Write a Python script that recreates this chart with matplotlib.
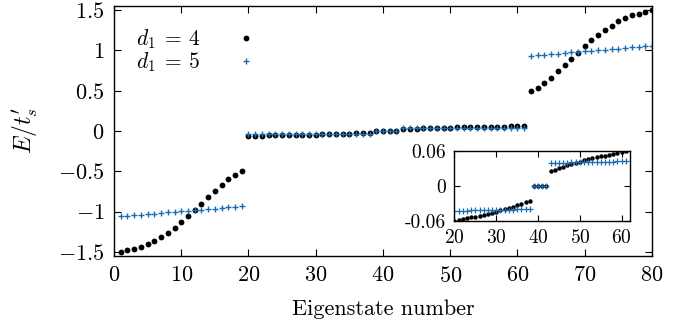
import numpy as np
import matplotlib
matplotlib.use('Agg')
import matplotlib.pyplot as plt

plt.rcParams['font.family'] = 'serif'
plt.rcParams['font.serif'] = ['cmr10', 'DejaVu Serif']
plt.rcParams['mathtext.fontset'] = 'cm'
plt.rcParams['axes.unicode_minus'] = False

# eigenstate index
n = np.arange(1, 81)

# d1 = 4 spectrum (black dots)
d4_low = [-1.502, -1.481, -1.461, -1.440, -1.407, -1.370, -1.317, -1.259, -1.202, -1.132,
          -1.058, -0.984, -0.905, -0.823, -0.745, -0.667, -0.601, -0.543, -0.502]
d4_mid_neg = [-0.0592, -0.0578, -0.0565, -0.0552, -0.0538, -0.0523, -0.0508, -0.0492, -0.0475, -0.0457,
              -0.0438, -0.0418, -0.0397, -0.0375, -0.0352, -0.0328, -0.0303, -0.0277, -0.0250]
d4_zero = [0.0, 0.0, 0.0, 0.0]
d4_mid_pos = [0.0250, 0.0277, 0.0303, 0.0328, 0.0352, 0.0375, 0.0397, 0.0418, 0.0438, 0.0457,
              0.0475, 0.0492, 0.0508, 0.0523, 0.0538, 0.0552, 0.0565, 0.0578, 0.0592]
d4_high = [0.494, 0.531, 0.593, 0.658, 0.741, 0.815, 0.897, 0.971, 1.049, 1.123,
           1.189, 1.251, 1.305, 1.358, 1.403, 1.436, 1.457, 1.481, 1.498]

# d1 = 5 spectrum (blue plus)
d5_low = [-1.058, -1.051, -1.044, -1.037, -1.030, -1.023, -1.017, -1.010, -1.003, -0.996,
          -0.989, -0.982, -0.975, -0.968, -0.961, -0.954, -0.948, -0.941, -0.934]
d5_mid_neg = [-0.0425, -0.0423, -0.0422, -0.0420, -0.0419, -0.0417, -0.0416, -0.0414, -0.0413, -0.0411,
              -0.0410, -0.0408, -0.0406, -0.0405, -0.0403, -0.0402, -0.0400, -0.0399, -0.0397]
d5_zero = [0.0, 0.0, 0.0, 0.0]
d5_mid_pos = [0.0397, 0.0399, 0.0400, 0.0402, 0.0403, 0.0405, 0.0406, 0.0408, 0.0410, 0.0411,
              0.0413, 0.0414, 0.0416, 0.0417, 0.0419, 0.0420, 0.0422, 0.0423, 0.0425]
d5_high = [0.934, 0.941, 0.948, 0.954, 0.961, 0.968, 0.975, 0.982, 0.989, 0.996,
           1.003, 1.010, 1.017, 1.023, 1.030, 1.037, 1.044, 1.051, 1.058]

E4 = np.array(d4_low + d4_mid_neg + d4_zero + d4_mid_pos + d4_high)
E5 = np.array(d5_low + d5_mid_neg + d5_zero + d5_mid_pos + d5_high)

main_yticks = [-1.5, -1, -0.5, 0, 0.5, 1, 1.5]
main_ylabels = ['$-1.5$', '$-1$', '$-0.5$', '$0$', '$0.5$', '$1$', '$1.5$']
main_xticks = [0, 10, 20, 30, 40, 50, 60, 70, 80]
inset_yticks = [-0.06, 0, 0.06]
inset_ylabels = ['-0.06', '0', '0.06']
inset_xticks = [20, 30, 40, 50, 60]

blue = '#1a6db3'

fig = plt.figure(figsize=(6.85, 3.28), dpi=100)
ax = fig.add_axes([0.1664, 0.2195, 0.7854, 0.7622])

ax.plot(n, E4, 'o', color='black', ms=4.2, mew=0, label=r'$d_1\:=\:4$')
ax.plot(n, E5, '+', color=blue, ms=4.8, mew=1.0, label=r'$d_1\:=\:5$')

ax.set_xlim(0, 80)
ax.set_ylim(-1.55, 1.55)
ax.set_xticks(main_xticks)
ax.set_xticklabels(['$%d$' % t for t in main_xticks])
ax.set_yticks(main_yticks)
ax.set_yticklabels(main_ylabels)
ax.tick_params(direction='in', top=True, right=True, length=5, width=0.8, labelsize=16, pad=7)
for s in ax.spines.values():
    s.set_linewidth(1.0)
ax.set_xlabel('Eigenstate number', fontsize=16, labelpad=10)
ax.set_ylabel(r"$E/t_s^{\prime}$", fontsize=17, labelpad=13)

leg = ax.legend(loc='upper left', markerfirst=False, frameon=False, fontsize=15.5,
                handletextpad=1.6, handlelength=1.0, labelspacing=0.0,
                borderaxespad=0.0, bbox_to_anchor=(0.025, 0.95))

# inset zoom on the middle states
axin = fig.add_axes([0.6635, 0.3262, 0.2562, 0.2134])
axin.plot(n, E4, 'o', color='black', ms=3.2, mew=0)
axin.plot(n, E5, '+', color=blue, ms=4, mew=0.9)
axin.set_xlim(20, 62)
axin.set_ylim(-0.06, 0.06)
axin.set_xticks(inset_xticks)
axin.set_xticklabels(['$%d$' % t for t in inset_xticks])
axin.set_yticks(inset_yticks)
axin.set_yticklabels(inset_ylabels)
axin.tick_params(direction='in', top=True, right=True, length=4, width=0.8, labelsize=14, pad=6)
for s in axin.spines.values():
    s.set_linewidth(1.0)

fig.savefig('out.png', dpi=100)
